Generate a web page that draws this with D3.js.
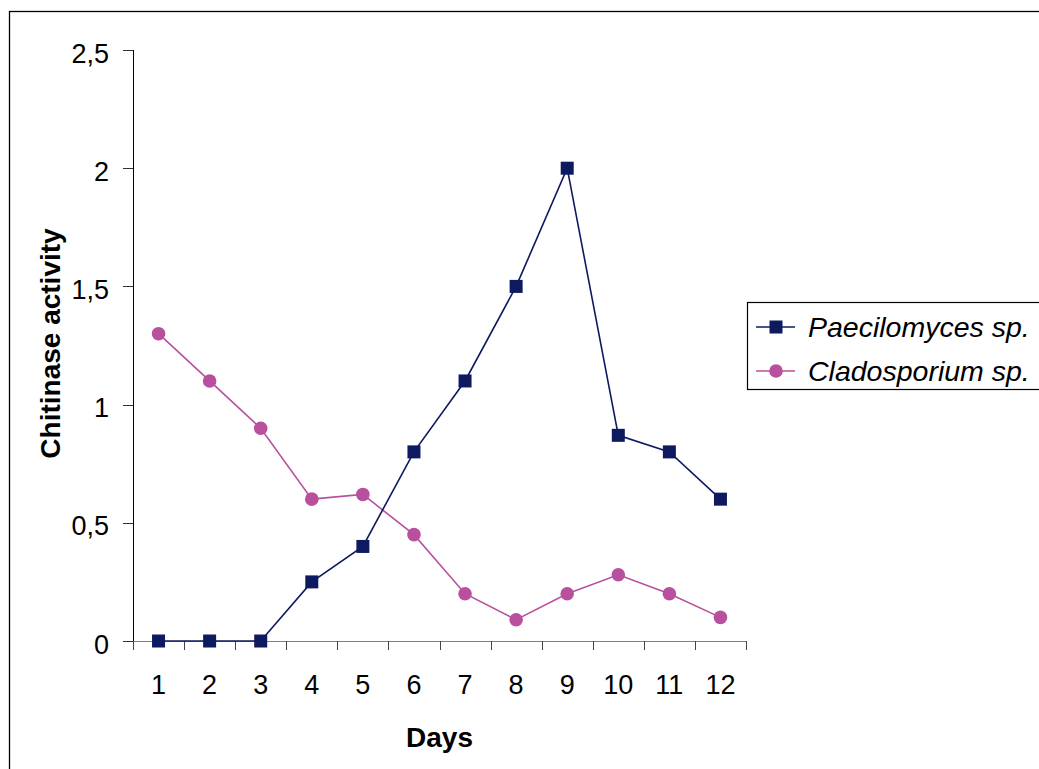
<!DOCTYPE html>
<html>
<head>
<meta charset="utf-8">
<script src="https://cdn.jsdelivr.net/npm/d3@7"></script>
<style>
  body { margin: 0; background: #fff; }
  svg { display: block; font-family: Arial, "Liberation Sans", sans-serif; }
  .domain { shape-rendering: crispEdges; }
  .tick line { shape-rendering: crispEdges; }
</style>
</head>
<body>
<div id="chart"></div>
<script>
var days = ["1", "2", "3", "4", "5", "6", "7", "8", "9", "10", "11", "12"],
    paecilomyces = [0, 0, 0, 0.25, 0.4, 0.8, 1.1, 1.5, 2.0, 0.87, 0.8, 0.6],
    cladosporium = [1.3, 1.1, 0.9, 0.6, 0.62, 0.45, 0.2, 0.09, 0.2, 0.28, 0.2, 0.1],
    yTicks = [0, 0.5, 1, 1.5, 2, 2.5],
    seriesNames = ["Paecilomyces sp.", "Cladosporium sp."];

var width = 1039,
    height = 769,
    margin = { top: 50, bottom: 128, left: 133, right: 293 },
    navy = "#0D1A5F",
    pink = "#B8509E";

var comma = d3.formatLocale({ decimal: ",", thousands: ".", grouping: [3], currency: ["", ""] });

var svg = d3.select("#chart")
    .append("svg")
    .attr("width", width)
    .attr("height", height);

// outer frame (runs off the right and bottom edges)
svg.append("rect")
    .attr("x", 9.5).attr("y", 11.5)
    .attr("width", 1100).attr("height", 800)
    .attr("fill", "none")
    .attr("stroke", "#000")
    .attr("stroke-width", 1.3);

var xScale = d3.scaleBand()
    .domain(days)
    .range([margin.left, width - margin.right]);

var xEdges = d3.scaleLinear()
    .domain([0, days.length])
    .range([margin.left, width - margin.right]);

var yScale = d3.scaleLinear()
    .domain([0, 2.5])
    .range([height - margin.bottom, margin.top]);

var baseY = height - margin.bottom;

// y axis
var yAxis = svg.append("g")
    .attr("transform", "translate(" + margin.left + ",0)")
    .call(d3.axisLeft(yScale)
        .tickValues(yTicks)
        .tickFormat(comma.format("~g"))
        .tickSize(10)
        .tickPadding(14));
yAxis.attr("font-family", null);
yAxis.select(".domain").attr("stroke", "#000").attr("stroke-width", 1.3);
yAxis.selectAll(".tick line").attr("stroke", "#333");
yAxis.selectAll("text")
    .attr("font-size", 27)
    .attr("dy", "0.45em")
    .attr("fill", "#000");

// x axis: ticks between categories
var xAxisTicks = svg.append("g")
    .attr("transform", "translate(0," + baseY + ")")
    .call(d3.axisBottom(xEdges)
        .ticks(days.length)
        .tickFormat("")
        .tickSize(9)
        .tickSizeOuter(0));
xAxisTicks.select(".domain").attr("stroke", "#808080").attr("stroke-width", 1.5);
xAxisTicks.selectAll(".tick line").attr("stroke", "#444");

// x axis labels at category centres
var xAxisLabels = svg.append("g")
    .attr("transform", "translate(0," + baseY + ")")
    .call(d3.axisBottom(xScale).tickSize(0).tickPadding(34));
xAxisLabels.attr("font-family", null);
xAxisLabels.select(".domain").remove();
xAxisLabels.selectAll("text")
    .attr("font-size", 27)
    .attr("fill", "#000");

// axis titles
svg.append("text")
    .attr("transform", "translate(60," + ((margin.top + baseY) / 2 - 2) + ") rotate(-90)")
    .attr("text-anchor", "middle")
    .attr("font-size", 28)
    .attr("font-weight", "bold")
    .text("Chitinase activity");

svg.append("text")
    .attr("x", (margin.left + width - margin.right) / 2)
    .attr("y", 747)
    .attr("text-anchor", "middle")
    .attr("font-size", 28)
    .attr("font-weight", "bold")
    .text("Days");

var cx = function (d, i) { return xScale(days[i]) + xScale.bandwidth() / 2; };

var line = d3.line()
    .x(function (d, i) { return cx(d, i); })
    .y(function (d) { return yScale(d); });

// Cladosporium
svg.append("path")
    .datum(cladosporium)
    .attr("fill", "none")
    .attr("stroke", pink)
    .attr("stroke-width", 1.6)
    .attr("d", line);

svg.selectAll(".clad")
    .data(cladosporium)
    .enter().append("circle")
    .attr("class", "clad")
    .attr("cx", cx)
    .attr("cy", function (d) { return yScale(d); })
    .attr("r", 6.8)
    .attr("fill", pink);

// Paecilomyces
svg.append("path")
    .datum(paecilomyces)
    .attr("fill", "none")
    .attr("stroke", navy)
    .attr("stroke-width", 1.6)
    .attr("d", line);

svg.selectAll(".paec")
    .data(paecilomyces)
    .enter().append("rect")
    .attr("class", "paec")
    .attr("x", function (d, i) { return cx(d, i) - 6.5; })
    .attr("y", function (d) { return yScale(d) - 6.5; })
    .attr("width", 13)
    .attr("height", 13)
    .attr("fill", navy);

// legend box (runs off the right edge)
var legend = svg.append("g").attr("transform", "translate(747,302)");
legend.append("rect")
    .attr("x", 0.5).attr("y", 0.5)
    .attr("width", 400).attr("height", 87)
    .attr("fill", "#fff")
    .attr("stroke", "#000")
    .attr("stroke-width", 1.2);

var rows = legend.selectAll(".row")
    .data(seriesNames)
    .enter().append("g")
    .attr("class", "row")
    .attr("transform", function (d, i) { return "translate(0," + (25 + i * 44) + ")"; });

rows.append("line")
    .attr("x1", 9).attr("x2", 48)
    .attr("stroke", function (d, i) { return i === 0 ? navy : pink; })
    .attr("stroke-width", 1.6);

rows.filter(function (d, i) { return i === 0; })
    .append("rect")
    .attr("x", 22.5).attr("y", -6.5)
    .attr("width", 13).attr("height", 13)
    .attr("fill", navy);

rows.filter(function (d, i) { return i === 1; })
    .append("circle")
    .attr("cx", 29).attr("r", 6.8)
    .attr("fill", pink);

rows.append("text")
    .attr("x", 61)
    .attr("dy", "0.36em")
    .attr("font-size", 28.5)
    .attr("font-style", "italic")
    .text(function (d) { return d; });
</script>
</body>
</html>
